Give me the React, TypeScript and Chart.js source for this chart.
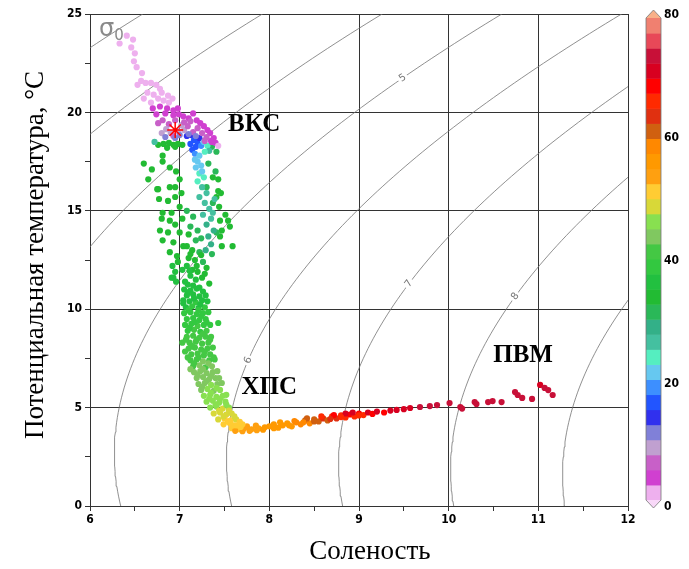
import React, { useEffect, useRef } from "react";
import { Chart, registerables } from "chart.js";
Chart.register(...registerables);

// ---------- data ----------
type P = [number, number, number]; // [salinity, potential temperature, depth]

const surfacePoints: P[] = [
  [6.33,23.5,1],[6.41,23.9,1],[6.48,23.7,1],[6.46,23.3,1],[6.50,23.0,1],[6.49,22.6,1],[6.52,22.3,1],[6.58,22.0,1],
  [6.57,21.6,2],[6.53,21.4,2],[6.62,21.5,2],[6.68,21.5,2],[6.74,21.4,2],[6.78,21.2,2],[6.80,21.0,2],[6.71,20.9,2],
  [6.76,20.7,2],[6.82,20.6,2],[6.88,20.5,2],[6.92,20.7,2],[6.68,20.5,2],[6.70,20.2,3],[6.78,20.3,3],[6.86,20.2,3],
  [6.93,20.1,3],[6.98,20.2,3],[6.74,19.9,3],[6.84,19.95,4],[6.93,19.85,4],[6.99,19.9,4],[7.04,19.8,4],[7.10,19.7,4],
  [7.12,19.55,5],[7.19,19.6,4],[7.23,19.45,4],[7.27,19.3,3],[7.31,19.1,3],[7.34,18.95,3],[7.38,18.7,3],[7.40,18.45,3],
  [7.43,18.3,2],[7.36,18.5,3],[6.64,21.0,2],[6.60,20.7,2],[6.87,20.85,2],[7.15,19.95,3],
  [6.81,19.6,5],[6.76,19.45,5],[6.88,19.4,7],[6.95,19.6,6],[7.02,19.35,8],[6.85,19.15,8],[6.90,18.95,9],[6.98,19.05,9],
  [7.05,19.1,8],[6.80,18.95,8],[6.84,18.75,10],[6.93,18.8,6],[7.09,19.3,6],[7.15,19.0,7],[7.20,19.2,5],[7.05,19.5,6],
  [7.00,18.85,10],[6.95,18.7,11],[7.10,18.9,10],[7.18,18.8,11],[7.25,18.95,6],[7.30,18.75,5],[7.35,18.55,4],[7.28,18.55,7],
];

const blueCorePoints: P[] = [
  [7.08,18.8,13],[7.13,18.85,14],[7.16,18.6,15],[7.20,18.45,16],[7.12,18.4,15],[7.22,18.7,13],[7.18,18.25,17],[7.14,18.1,16],
  [7.24,18.3,18],[7.17,17.9,18],
  [7.27,18.5,22],[7.31,18.3,24],[7.33,18.05,25],[7.28,18.0,23],[7.22,17.8,21],[7.20,17.5,20],[7.24,17.3,22],[7.18,17.2,21],
  [7.22,16.9,23],[7.27,16.7,24],[7.20,16.5,24],[7.25,16.2,25],[7.30,15.9,26],[7.22,15.7,25],[7.28,15.4,26],[7.33,15.1,27],
  [7.26,14.8,27],[7.35,14.6,26],[7.30,14.3,28],[7.38,14.0,28],[7.32,13.7,29],[7.35,13.3,28],[7.29,13.0,29],[7.36,12.8,30],
  [7.17,17.6,20],[7.25,17.0,22],[6.72,18.5,27],[7.39,15.6,27],[7.37,14.9,26],
];

const upperGreenPoints: P[] = [
  [6.76,18.35,33],[6.82,18.4,34],[6.88,18.45,33],[6.93,18.35,34],[6.98,18.4,33],[7.03,18.35,34],[6.86,18.2,34],[6.95,18.25,33],
  [7.36,18.25,32],[7.41,18.0,30],
  [6.60,17.4,33],[6.69,17.1,34],[6.65,16.6,33],[6.81,17.8,34],[6.81,17.5,33],[6.89,17.2,34],[6.76,16.1,33],[6.89,16.2,34],
  [6.95,16.2,33],[6.87,15.5,34],[6.95,15.7,33],[6.81,14.9,34],[6.91,14.9,33],[6.80,14.6,34],[6.89,14.5,33],[6.95,14.3,34],
  [6.78,14.0,33],[6.87,13.9,34],[6.81,13.5,34],[6.93,13.4,33],[6.89,12.9,34],[6.97,12.7,34],[6.91,11.6,35],[6.75,16.1,33],
  [6.77,15.6,34],[6.96,17.0,33],[7.00,16.6,34],[7.02,15.9,33],[7.00,15.2,33],[7.03,14.6,34],[7.00,13.9,34],[7.04,13.2,33],
  [6.98,12.4,34],[7.03,12.0,35],[6.92,12.2,35],[6.95,11.9,35],
  [7.32,17.4,32],[7.37,16.7,33],[7.43,16.6,33],[7.30,16.2,31],[7.41,15.7,33],[7.37,15.4,32],[7.44,15.2,33],[7.51,14.8,33],
  [7.45,14.5,33],[7.54,14.5,33],[7.56,14.2,33],[7.47,14.0,33],[7.45,13.7,33],[7.47,13.2,34],[7.59,13.2,34],[7.41,13.9,32],
  [7.43,16.0,33],[7.40,17.0,32],[7.46,15.9,34],
  [7.08,15.0,32],[7.15,14.7,31],[7.12,14.2,32],[7.20,14.0,30],[7.10,13.8,33],[7.18,13.5,32],[7.24,13.6,31],[7.08,13.2,34],
  [7.14,13.0,33],[7.22,12.9,32],[7.10,12.6,34],[7.17,12.5,33],[7.26,12.4,32],[7.08,12.2,35],[7.14,12.0,34],[7.20,11.9,34],
  [7.30,12.1,33],[7.12,11.7,35],[7.18,11.5,35],[7.25,11.6,34],[7.06,11.4,35],[7.33,11.3,34],[7.15,11.2,36],[7.22,11.1,35],
  [7.12,12.8,34],[7.19,12.2,34],[7.24,12.75,33],[7.11,11.95,35],[7.28,11.8,34],[7.09,11.25,36],
];

const columnPoints: P[] = [
  [6.93,11.6,36],[6.96,11.4,36],[7.04,10.3,37],[7.03,8.3,40],[7.14,8.1,40],[7.43,9.3,39],
  [7.05,11.0,36],[7.12,10.95,36],[7.19,11.05,37],[7.26,10.9,36],
  [7.08,10.7,36],[7.15,10.75,37],[7.22,10.65,36],[7.29,10.7,37],
  [7.04,10.45,37],[7.11,10.4,37],[7.18,10.35,38],[7.25,10.45,37],[7.31,10.4,37],
  [7.07,10.1,37],[7.14,10.15,38],[7.21,10.05,37],[7.28,10.1,38],
  [7.05,9.8,38],[7.12,9.85,38],[7.19,9.75,39],[7.26,9.8,38],[7.32,9.85,38],
  [7.08,9.5,38],[7.15,9.55,39],[7.22,9.45,38],[7.29,9.5,39],
  [7.06,9.2,39],[7.13,9.25,39],[7.20,9.15,40],[7.27,9.2,39],[7.34,9.2,39],
  [7.09,8.9,39],[7.16,8.95,40],[7.23,8.85,39],[7.30,8.9,40],
  [7.08,8.6,40],[7.15,8.65,40],[7.22,8.55,41],[7.29,8.6,40],[7.35,8.6,40],
  [7.11,8.3,40],[7.18,8.35,41],[7.25,8.25,40],[7.32,8.3,41],
  [7.10,8.0,41],[7.17,8.05,41],[7.24,7.95,42],[7.31,8.0,41],[7.37,8.05,41],
  [7.13,7.7,41],[7.20,7.75,42],[7.27,7.65,41],[7.34,7.7,42],
  [7.12,7.4,42],[7.19,7.45,42],[7.26,7.35,43],[7.33,7.4,42],[7.39,7.45,42],
  [7.15,7.1,42],[7.22,7.15,43],[7.29,7.05,42],[7.36,7.1,43],
  [7.16,6.8,43],[7.23,6.85,43],[7.30,6.75,44],[7.37,6.8,43],[7.42,6.85,43],
  [7.19,6.5,43],[7.26,6.55,44],[7.33,6.45,43],[7.40,6.5,44],
  [7.21,6.2,44],[7.28,6.25,44],[7.35,6.15,45],[7.42,6.2,44],[7.47,6.25,44],
  [7.24,5.9,44],[7.31,5.95,45],[7.38,5.85,44],[7.45,5.9,45],
  [7.27,5.6,45],[7.34,5.65,45],[7.41,5.55,46],[7.48,5.6,45],[7.52,5.65,46],
  [7.30,5.3,46],[7.37,5.35,46],[7.44,5.25,47],[7.51,5.3,46],
  [7.34,5.0,47],[7.41,5.05,47],[7.48,4.95,48],[7.55,5.0,47],
  [7.38,4.7,48],[7.45,4.75,48],[7.52,4.65,49],[7.58,4.7,48],
  [7.43,4.4,49],[7.50,4.45,50],[7.57,4.35,50],[7.63,4.4,49],
  [7.49,4.15,50],[7.56,4.2,51],[7.63,4.1,51],[7.70,4.15,51],
  // in-between fill
  [7.09,10.85,36],[7.16,10.55,37],[7.23,10.25,37],[7.10,9.95,38],[7.24,9.65,38],[7.17,9.35,39],[7.11,9.05,39],[7.26,8.75,40],
  [7.19,8.45,40],[7.13,8.15,41],[7.28,7.85,41],[7.21,7.55,42],[7.16,7.25,42],[7.32,7.25,43],[7.26,6.95,43],[7.20,6.65,43],
  [7.35,6.6,44],[7.30,6.35,44],[7.25,6.05,44],[7.41,6.0,45],[7.35,5.75,45],[7.45,5.45,46],[7.33,5.45,46],[7.40,5.15,47],
  [7.52,5.15,47],[7.44,4.85,48],[7.55,4.85,48],[7.49,4.55,49],[7.61,4.55,49],[7.54,4.3,50],[7.67,4.28,51],[7.21,9.95,38],
  [7.30,9.35,39],[7.07,8.45,40],[7.34,8.45,40],[7.06,7.85,41],[7.09,7.55,42],[7.38,7.55,42],[7.12,6.95,43],[7.44,6.5,44],
];

const bendPoints: P[] = [
  [7.58,3.95,52],[7.65,3.9,52],[7.72,3.95,53],[7.80,3.9,53],[7.88,3.95,54],
  [7.62,3.82,53],[7.70,3.8,53],[7.78,3.82,54],[7.86,3.85,54],
  [7.75,4.05,53],[7.85,4.08,54],[7.95,4.0,55],[7.93,3.88,55],[7.68,4.02,52],[7.60,4.1,52],
];

const tailPoints: P[] = [
  [8.00,4.05,55],[8.05,4.15,56],[8.10,3.98,55],[8.15,4.10,56],[8.20,4.20,57],[8.25,4.05,57],[8.30,4.25,58],[8.35,4.15,58],
  [8.40,4.35,60],[8.45,4.20,59],[8.50,4.40,62],[8.55,4.30,61],[8.60,4.45,63],[8.65,4.35,62],[8.70,4.55,65],[8.75,4.45,64],
  [8.80,4.60,66],[8.85,4.50,65],[8.90,4.65,68],[8.95,4.55,66],[9.00,4.70,69],[9.05,4.62,67],[9.10,4.75,70],[9.15,4.68,68],
  [9.20,4.80,70],[9.28,4.75,69],[9.35,4.85,71],[9.42,4.88,71],[9.50,4.92,72],[9.57,4.98,72],
  [8.12,4.25,57],[8.28,4.32,58],[8.42,4.45,62],[8.58,4.55,66],[8.72,4.62,68],[8.85,4.70,71],[8.93,4.75,72],[9.00,4.60,66],
  [8.05,3.95,55],[8.22,4.10,57],[8.38,4.25,59],[8.50,4.30,60],[8.68,4.42,63],[8.80,4.52,65],
  [9.68,5.03,73],[9.79,5.08,73],[9.87,5.13,73],[10.01,5.23,74],[10.13,5.03,73],[10.15,4.95,73],[10.29,5.28,74],[10.31,5.18,74],
  [10.44,5.28,74],[10.49,5.33,74],[10.59,5.28,74],[10.74,5.79,74],[10.77,5.64,74],[10.82,5.49,74],[10.93,5.44,74],
  [11.02,6.15,72],[11.07,6.00,73],[11.11,5.89,74],[11.16,5.64,74],
];

const markerPoint: [number, number] = [6.95, 19.1];

// isopycnal levels (sigma-0, kg/m3)
const sigmaLevels = [2, 3, 4, 5, 6, 7, 8, 9];
const labeledLevels = [5, 6, 7, 8];
const labelTemps = [21.75, 7.4, 11.3, 10.65];

// colour scale (depth, m), steps of 2.5 from 0 to 80
const cbMin = 0;
const cbMax = 80;
const cbTicks = [0, 20, 40, 60, 80];
const cbColors = [
  "#eeb0ee", "#d040d0", "#c860c8", "#c0a0d0", "#8080d8", "#3030ee", "#2255ff", "#3d8fff",
  "#66c8f0", "#55eec0", "#44c0a0", "#33b088", "#2ab858", "#22bb33", "#22c040", "#33c840",
  "#44c844", "#80c860", "#88e050", "#d8d838", "#ffcc33", "#ffa010", "#ff9900", "#ff8800",
  "#d06010", "#e03010", "#ff2a00", "#ff0000", "#d80020", "#c81038", "#e84858", "#f08070",
];
const cbTopTip = "#f8b088";
const cbBottomTip = "#f8d8f8";

const waterMasses = ["ВКС", "ХПС", "ПВМ"];
const waterMassS = [7.83, 8.0, 10.83];
const waterMassT = [19.4, 6.0, 7.67];

// ---------- helpers ----------
function sigma0(S: number, T: number) {
  const rw = 999.842594 + 6.793952e-2 * T - 9.09529e-3 * T ** 2 + 1.001685e-4 * T ** 3 - 1.120083e-6 * T ** 4 + 6.536332e-9 * T ** 5;
  const A = 8.24493e-1 - 4.0899e-3 * T + 7.6438e-5 * T ** 2 - 8.2467e-7 * T ** 3 + 5.3875e-9 * T ** 4;
  const B = -5.72466e-3 + 1.0227e-4 * T - 1.6546e-6 * T ** 2;
  return rw + A * S + B * Math.pow(S, 1.5) + 4.8314e-4 * S * S - 1000;
}
function salinityFor(level: number, T: number) {
  let lo = 0, hi = 40;
  for (let i = 0; i < 60; i++) {
    const mid = (lo + hi) / 2;
    if (sigma0(mid, T) < level) lo = mid; else hi = mid;
  }
  return (lo + hi) / 2;
}
function depthColor(d: number) {
  const n = cbColors.length;
  let k = Math.floor(((d - cbMin) / (cbMax - cbMin)) * n);
  if (k < 0) k = 0;
  if (k > n - 1) k = n - 1;
  return cbColors[k];
}

const allPoints: P[] = [...tailPoints, ...bendPoints, ...columnPoints, ...upperGreenPoints, ...blueCorePoints, ...surfacePoints];

const tickFont = { family: '"Liberation Sans Narrow", "DejaVu Sans Condensed", "Arial Narrow", "Liberation Sans", sans-serif', weight: "bold" as const, size: 12 };

export default function App() {
  const ref = useRef<HTMLCanvasElement | null>(null);
  useEffect(() => {
    if (!ref.current) return;
    const contourSets = sigmaLevels.map((lv) => {
      const pts: { x: number; y: number }[] = [];
      for (let t = 0; t <= 26; t += 0.25) pts.push({ x: salinityFor(lv, t), y: t });
      return {
        type: "line" as const,
        data: pts,
        borderColor: "#737373",
        borderWidth: 0.8,
        pointRadius: 0,
        tension: 0,
        order: 10,
      };
    });

    const overlay = {
      id: "overlay",
      afterDatasetsDraw(chart: any) {
        const { ctx, scales } = chart;
        const xs = scales.x, ys = scales.y;
        ctx.save();
        labeledLevels.forEach((lv, i) => {
          const t = labelTemps[i];
          const s = salinityFor(lv, t);
          const px = xs.getPixelForValue(s), py = ys.getPixelForValue(t);
          const px2 = xs.getPixelForValue(salinityFor(lv, t + 0.3)), py2 = ys.getPixelForValue(t + 0.3);
          const ang = Math.atan2(py2 - py, px2 - px);
          ctx.save();
          ctx.translate(px, py);
          ctx.rotate(ang);
          ctx.fillStyle = "#ffffff";
          ctx.fillRect(-5, -5, 10, 10);
          ctx.fillStyle = "#777";
          ctx.font = '10px "DejaVu Sans", sans-serif';
          ctx.textAlign = "center";
          ctx.textBaseline = "middle";
          ctx.fillText(String(lv), 0, 0);
          ctx.restore();
        });
        ctx.fillStyle = "#000";
        ctx.font = 'bold 25px "Liberation Serif", "Times New Roman", serif';
        ctx.textAlign = "center";
        ctx.textBaseline = "middle";
        waterMasses.forEach((w, i) => {
          ctx.fillText(w, xs.getPixelForValue(waterMassS[i]), ys.getPixelForValue(waterMassT[i]));
        });
        ctx.fillStyle = "#8a8a8a";
        ctx.textAlign = "left";
        ctx.textBaseline = "alphabetic";
        ctx.font = '24px "DejaVu Sans", sans-serif';
        const sx = xs.getPixelForValue(6.1), sy = ys.getPixelForValue(23.9);
        ctx.fillText("σ", sx, sy);
        const sw = ctx.measureText("σ").width;
        ctx.font = '15px "DejaVu Sans", sans-serif';
        ctx.fillText("0", sx + sw, sy + 4);
        ctx.restore();
      },
      afterDraw(chart: any) {
        const { ctx, chartArea } = chart;
        ctx.save();
        const x0 = 646, w = 15;
        const top = chartArea.top + 4, bot = chartArea.bottom - 6;
        const n = cbColors.length;
        const seg = (bot - top) / n;
        cbColors.forEach((c, k) => {
          ctx.fillStyle = c;
          ctx.fillRect(x0, bot - (k + 1) * seg, w, seg + 0.5);
        });
        ctx.fillStyle = cbTopTip;
        ctx.beginPath();
        ctx.moveTo(x0, top); ctx.lineTo(x0 + w / 2, top - 8); ctx.lineTo(x0 + w, top); ctx.closePath(); ctx.fill();
        ctx.fillStyle = cbBottomTip;
        ctx.beginPath();
        ctx.moveTo(x0, bot); ctx.lineTo(x0 + w / 2, bot + 8); ctx.lineTo(x0 + w, bot); ctx.closePath(); ctx.fill();
        ctx.strokeStyle = "#777";
        ctx.lineWidth = 0.8;
        ctx.beginPath();
        ctx.moveTo(x0, top); ctx.lineTo(x0 + w / 2, top - 8); ctx.lineTo(x0 + w, top);
        ctx.lineTo(x0 + w, bot); ctx.lineTo(x0 + w / 2, bot + 8); ctx.lineTo(x0, bot); ctx.closePath(); ctx.stroke();
        ctx.fillStyle = "#000";
        ctx.font = `bold 12px ${tickFont.family}`;
        ctx.textAlign = "left";
        ctx.textBaseline = "middle";
        const lt = chartArea.top + 1, lb = chartArea.bottom + 1;
        cbTicks.forEach((v) => {
          const y = lb - ((v - cbMin) / (cbMax - cbMin)) * (lb - lt);
          ctx.fillText(String(v), 664, y);
        });
        ctx.font = '27px "Liberation Serif", "Times New Roman", serif';
        ctx.textAlign = "center";
        ctx.textBaseline = "middle";
        ctx.fillText("Соленость", 370, 552);
        ctx.save();
        ctx.translate(36, 255);
        ctx.rotate(-Math.PI / 2);
        ctx.fillText("Потенциальная температура, °C", 0, 0);
        ctx.restore();
        ctx.restore();
      },
    };

    const chart = new Chart(ref.current, {
      type: "scatter",
      data: {
        datasets: [
          {
            type: "scatter" as const,
            data: [{ x: markerPoint[0], y: markerPoint[1] }],
            pointStyle: "star",
            pointRadius: 8,
            borderColor: "#ff0000",
            borderWidth: 1.5,
            backgroundColor: "#ff0000",
            order: 0,
          },
          {
            type: "scatter" as const,
            data: allPoints.map((p) => ({ x: p[0], y: p[1] })),
            backgroundColor: allPoints.map((p) => depthColor(p[2])),
            borderWidth: 0,
            pointRadius: 3.1,
            order: 1,
          },
          ...contourSets,
        ] as any,
      },
      options: {
        responsive: false,
        animation: false,
        layout: { padding: { top: 14, right: 61, left: 0, bottom: 0 } },
        plugins: { legend: { display: false }, tooltip: { enabled: false } },
        scales: {
          x: {
            type: "linear",
            min: 6,
            max: 12,
            afterFit: (s: any) => { s.height = 63; },
            ticks: {
              stepSize: 0.5,
              autoSkip: false,
              maxRotation: 0,
              color: "#000",
              font: tickFont,
              padding: 2,
              callback: (v: any) => (Number.isInteger(v) ? String(v) : ""),
            },
            grid: {
              color: (c: any) => (c.tick && Number.isInteger(c.tick.value) ? "#333" : "rgba(0,0,0,0)"),
              lineWidth: 1,
              tickLength: 5,
              tickColor: "#333",
            },
            border: { color: "#333", width: 1 },
          },
          y: {
            type: "linear",
            min: 0,
            max: 25,
            afterFit: (s: any) => { s.width = 90; },
            ticks: {
              stepSize: 2.5,
              autoSkip: false,
              color: "#000",
              font: tickFont,
              padding: 3,
              callback: (v: any) => (Math.abs(v / 5 - Math.round(v / 5)) < 1e-6 ? String(v) : ""),
            },
            grid: {
              color: (c: any) => (c.tick && Math.abs(c.tick.value / 5 - Math.round(c.tick.value / 5)) < 1e-6 ? "#333" : "rgba(0,0,0,0)"),
              lineWidth: 1,
              tickLength: 5,
              tickColor: "#333",
            },
            border: { color: "#333", width: 1 },
          },
        },
      },
      plugins: [overlay],
    });
    return () => chart.destroy();
  }, []);
  return (
    <div style={{ position: "absolute", left: 0, top: 0, width: 689, height: 569, background: "#fff" }}>
      <canvas ref={ref} width={689} height={569} style={{ width: 689, height: 569, display: "block" }} />
    </div>
  );
}
